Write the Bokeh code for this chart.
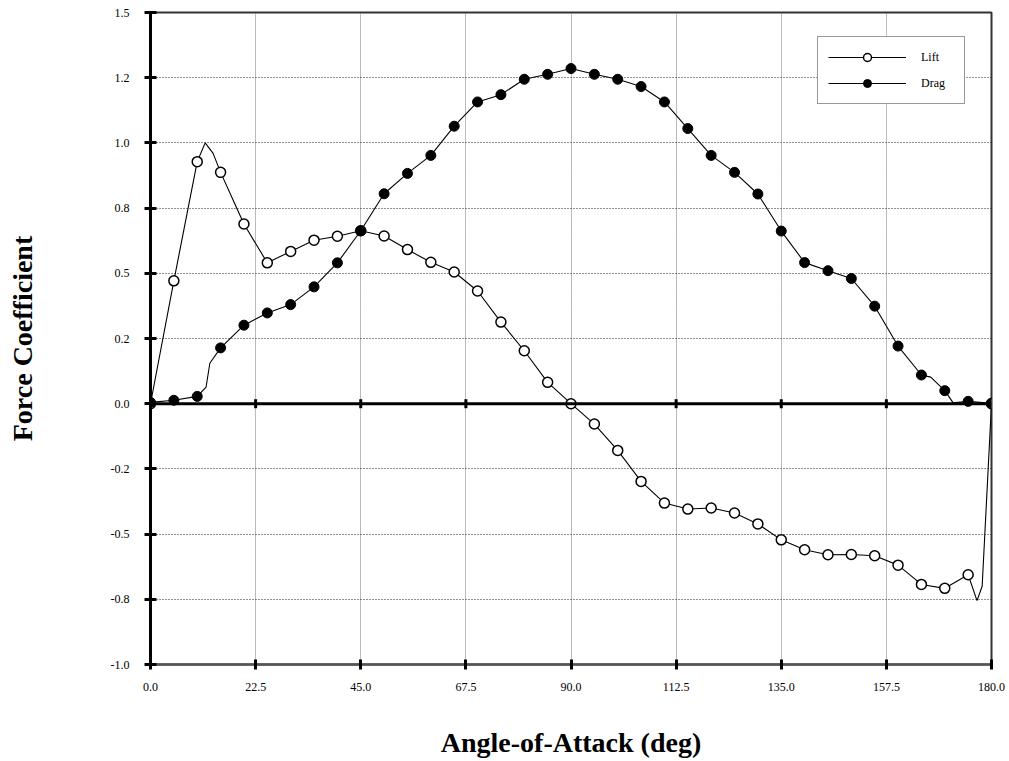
from bokeh.plotting import figure
from bokeh.models import Range1d, FixedTicker, Legend, LegendItem, Span
from bokeh.embed import file_html
from bokeh.resources import INLINE
import numpy as np

# ---------------- data ----------------
angle = [0, 5, 10, 15, 20, 25, 30, 35, 40, 45, 50, 55, 60, 65, 70, 75, 80, 85, 90,
         95, 100, 105, 110, 115, 120, 125, 130, 135, 140, 145, 150, 155, 160, 165,
         170, 175, 180]
lift = [0.0, 0.471, 0.928, 0.887, 0.689, 0.540, 0.584, 0.627, 0.642, 0.663, 0.643,
        0.591, 0.542, 0.505, 0.432, 0.313, 0.203, 0.082, 0.0, -0.078, -0.179, -0.298,
        -0.381, -0.404, -0.400, -0.419, -0.461, -0.522, -0.560, -0.579, -0.578,
        -0.583, -0.619, -0.693, -0.708, -0.656, 0.0]
drag = [0.005, 0.013, 0.028, 0.214, 0.301, 0.348, 0.380, 0.448, 0.540, 0.663, 0.805,
        0.883, 0.952, 1.064, 1.157, 1.185, 1.244, 1.263, 1.285, 1.263, 1.244, 1.216,
        1.157, 1.055, 0.952, 0.887, 0.804, 0.662, 0.541, 0.510, 0.480, 0.374, 0.221,
        0.110, 0.050, 0.009, 0.002]

# extra points of the fitted curves, read between the markers
lift_curve_extra_x = [11.7, 13.4, 17.7, 176.9, 178.0]
lift_curve_extra_y = [1.0, 0.96, 0.78, -0.755, -0.70]
drag_curve_extra_x = [11.9, 12.7, 167.0, 171.8]
drag_curve_extra_y = [0.064, 0.155, 0.102, 0.003]

x_ticks = [0, 22.5, 45, 67.5, 90, 112.5, 135, 157.5, 180]
x_tick_labels = ["0.0", "22.5", "45.0", "67.5", "90.0", "112.5", "135.0", "157.5", "180.0"]
y_ticks = [-1.0, -0.75, -0.5, -0.25, 0.0, 0.25, 0.5, 0.75, 1.0, 1.25, 1.5]
y_tick_labels = ["-1.0", "-0.8", "-0.5", "-0.2", "0.0", "0.2", "0.5", "0.8", "1.0", "1.2", "1.5"]


def merge(xs, ys, ex, ey):
    pts = sorted(zip(list(xs) + list(ex), list(ys) + list(ey)))
    return [a for a, _ in pts], [b for _, b in pts]


lift_cx, lift_cy = merge(angle, lift, lift_curve_extra_x, lift_curve_extra_y)
drag_cx, drag_cy = merge(angle, drag, drag_curve_extra_x, drag_curve_extra_y)

FONT = "Liberation Serif"

p = figure(frame_width=841, frame_height=652,
           x_range=Range1d(0, 180), y_range=Range1d(-1.0, 1.5),
           output_backend="svg", toolbar_location=None,
           min_border_left=150, min_border_right=17, min_border_top=12,
           min_border_bottom=96)
p.background_fill_color = "white"
p.border_fill_color = "white"
p.outline_line_color = "#333333"
p.outline_line_width = 2

# grid
p.xgrid.ticker = FixedTicker(ticks=x_ticks)
p.ygrid.ticker = FixedTicker(ticks=y_ticks)
p.xgrid.grid_line_color = "#777777"
p.xgrid.grid_line_dash = "1 1"
p.xgrid.grid_line_width = 1
p.ygrid.grid_line_color = "#222222"
p.ygrid.grid_line_dash = "1 2"
p.ygrid.grid_line_width = 1

# x axis (bottom)
xa = p.xaxis[0]
xa.ticker = FixedTicker(ticks=x_ticks)
xa.major_label_overrides = {t: l for t, l in zip(x_ticks, x_tick_labels)}
xa.axis_line_color = "#555555"
xa.axis_line_width = 2.5
xa.major_tick_line_color = "black"
xa.major_tick_line_width = 3
xa.major_tick_in = 5
xa.major_tick_out = 5
xa.minor_tick_line_color = None
xa.major_label_text_font = FONT
xa.major_label_text_font_size = "12px"
xa.major_label_text_color = "black"
xa.major_label_standoff = 13
xa.axis_label = "Angle-of-Attack (deg)"
xa.axis_label_text_font = FONT
xa.axis_label_text_font_size = "28px"
xa.axis_label_text_font_style = "bold"
xa.axis_label_text_color = "black"
xa.axis_label_standoff = 33

# y axis (left, at x = 0)
ya = p.yaxis[0]
ya.ticker = FixedTicker(ticks=y_ticks)
ya.major_label_overrides = {t: l for t, l in zip(y_ticks, y_tick_labels)}
ya.axis_line_color = "black"
ya.axis_line_width = 3
ya.major_tick_line_color = "black"
ya.major_tick_line_width = 3
ya.major_tick_in = 6
ya.major_tick_out = 6
ya.minor_tick_line_color = None
ya.major_label_text_font = FONT
ya.major_label_text_font_size = "12px"
ya.major_label_text_color = "black"
ya.major_label_standoff = 15
ya.axis_label = "Force Coefficient"
ya.axis_label_text_font = FONT
ya.axis_label_text_font_size = "28px"
ya.axis_label_text_font_style = "bold"
ya.axis_label_text_color = "black"
ya.axis_label_standoff = 70

# zero line with ticks
p.add_layout(Span(location=0, dimension="width", line_color="black", line_width=3))
p.scatter(x=x_ticks, y=[0] * len(x_ticks), marker="dash", angle=np.pi / 2,
          size=9, line_color="black", line_width=3)

# curves and markers
lift_line = p.line(lift_cx, lift_cy, line_color="black", line_width=1.1)
drag_line = p.line(drag_cx, drag_cy, line_color="black", line_width=1.1)
lift_pts = p.scatter(angle, lift, marker="circle", size=10, fill_color="white",
                     line_color="black", line_width=1.5)
drag_pts = p.scatter(angle, drag, marker="circle", size=10, fill_color="black",
                     line_color="black", line_width=1)

legend = Legend(items=[LegendItem(label="Lift", renderers=[lift_line, lift_pts]),
                       LegendItem(label="Drag", renderers=[drag_line, drag_pts])],
                location=(667, 560))
legend.border_line_color = "#333333"
legend.border_line_width = 1.5
legend.background_fill_color = "white"
legend.background_fill_alpha = 1.0
legend.label_text_font = FONT
legend.label_text_font_size = "12px"
legend.label_text_color = "black"
legend.glyph_width = 78
legend.glyph_height = 20
legend.label_height = 20
legend.label_width = 33
legend.label_standoff = 15
legend.padding = 10
legend.spacing = 6
legend.margin = 0
p.add_layout(legend)

open("out.html", "w").write(file_html(p, INLINE))
